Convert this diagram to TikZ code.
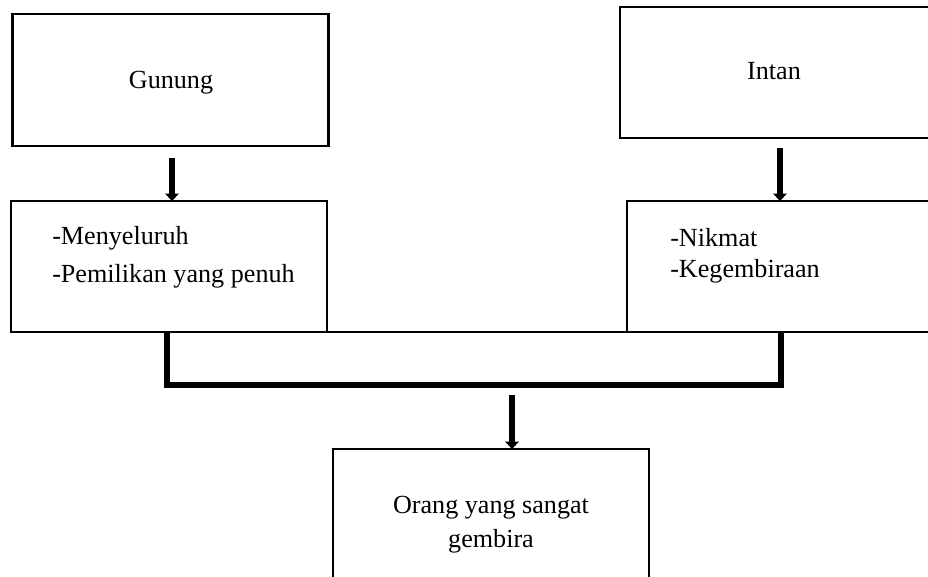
\documentclass[tikz,border=0pt]{standalone}
\usepackage{fontspec}
\setmainfont{Liberation Serif}
\usetikzlibrary{arrows.meta,calc}
\begin{document}
\begin{tikzpicture}[x=0.75pt,y=-0.75pt,
  box/.style={draw=black,line width=2pt,rectangle,inner sep=0pt,outer sep=0pt},
  txt/.style={inner sep=0pt,font=\fontsize{19.6}{23}\selectfont},
  arr/.style={line width=5pt,-{Triangle[width=10pt,length=5.5pt]}},
  bracketline/.style={line width=4.5pt,line join=miter},
  thinline/.style={line width=2pt}]
\useasboundingbox (0,0) rectangle (928,577);
\clip (0,0) rectangle (928,577);
% boxes
\node[box,minimum width=237pt,minimum height=99pt] (gunung) at (170.5,80) {};
\node[box,minimum width=234pt,minimum height=98.25pt] (intan) at (776,72.5) {};
\node[box,minimum width=237pt,minimum height=98.25pt] (sifatA) at (169,266.5) {};
\node[box,minimum width=231pt,minimum height=98.25pt] (sifatB) at (781,266.5) {};
\node[box,minimum width=237pt,minimum height=105.75pt] (hasil) at (491,519.5) {};
% texts
\node[txt,anchor=base] (tg) at (171,89) {Gunung};
\node[txt,anchor=base] (ti) at (774,80) {Intan};
\node[txt,anchor=base west] (ta1) at (52,245) {-Menyeluruh};
\node[txt,anchor=base west] (ta2) at (52,283) {-Pemilikan yang penuh};
\node[txt,anchor=base west] (tb1) at (670,247) {-Nikmat};
\node[txt,anchor=base west] (tb2) at (670,278) {-Kegembiraan};
\node[txt,anchor=base] (th1) at (491,513) {Orang yang sangat};
\node[txt,anchor=base] (th2) at (491,547) {gembira};
% line joining bottoms of middle boxes
\draw[thinline] (sifatA.south east) -- (sifatB.south west);
% bracket
\coordinate (bl) at (166.5,332);
\draw[bracketline] (bl) -- (166.5,384.5) -| (sifatB.south);
% arrows
\coordinate (a1s) at (172,158);
\draw[arr] (a1s) -- (a1s |- sifatA.north);
\coordinate (a2s) at (780,148);
\draw[arr] (a2s) -- (a2s |- sifatB.north);
\coordinate (a3s) at (512,395);
\draw[arr] (a3s) -- (a3s |- hasil.north);
\end{tikzpicture}
\end{document}
